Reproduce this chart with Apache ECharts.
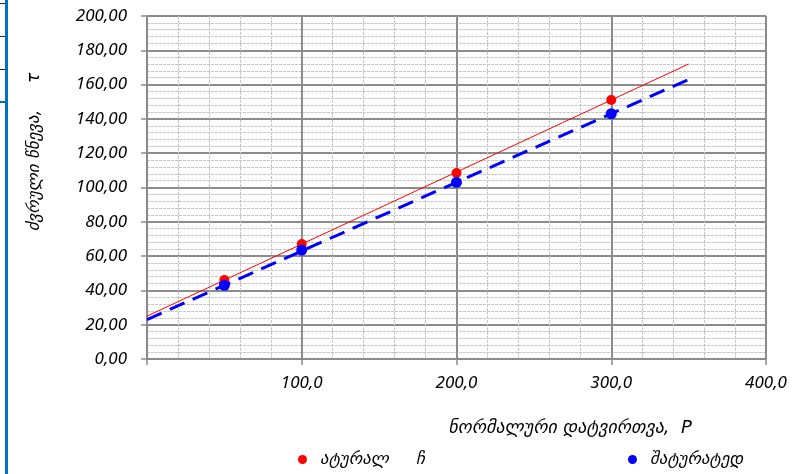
<!DOCTYPE html>
<html>
<head>
<meta charset="utf-8">
<script src="https://cdn.jsdelivr.net/npm/echarts@6/dist/echarts.min.js"></script>
<style>
html,body{margin:0;padding:0;background:#fff;}
#chart{width:804px;height:474px;}
</style>
</head>
<body>
<div id="chart"></div>
<script>
// Data
const loads = [50, 100, 200, 300];
const naturalVals = [46, 67, 108.5, 151];
const saturatedVals = [43, 63.5, 103, 143];
const trendLoads = [0, 350];
const naturalTrend = [25, 172];
const saturatedTrend = [23, 163];

const yTitle = 'ძვრული წნევა,     τ';
const xTitle = 'ნორმალური დატვირთვა,  P';
const naturalName = 'ატურალ     ჩ';
const saturatedName = 'შატურატედ';

const pairs = (xs, ys) => xs.map((x, i) => [x, ys[i]]);
const numFont = '"Noto Sans", "DejaVu Sans", sans-serif';
const geoFont = '"DejaVu Sans", "Noto Sans", sans-serif';

const chart = echarts.init(document.getElementById('chart'), null, {renderer: 'canvas'});
chart.setOption({
  animation: false,
  backgroundColor: '#ffffff',
  grid: {left: 147, right: 38, top: 16, bottom: 115, containLabel: false},
  xAxis: {
    type: 'value', min: 0, max: 400, interval: 100,
    axisLine: {show: true, lineStyle: {color: '#8a8a8a', width: 1.5}},
    axisTick: {show: true, inside: false, length: 6, lineStyle: {color: '#8a8a8a', width: 1.5}},
    minorTick: {show: false, splitNumber: 5},
    splitLine: {show: true, lineStyle: {color: '#8c8c8c', width: 2}},
    minorSplitLine: {show: true, lineStyle: {color: '#c4c4c4', width: 1, type: [3, 1]}},
    axisLabel: {
      margin: 16, color: '#000', fontSize: 17, fontStyle: 'italic', fontFamily: numFont,
      formatter: v => v === 0 ? '' : v.toFixed(1).replace('.', ',')
    }
  },
  yAxis: {
    type: 'value', min: 0, max: 200, interval: 20,
    axisLine: {show: true, lineStyle: {color: '#8a8a8a', width: 1.5}},
    axisTick: {show: true, inside: false, length: 6, lineStyle: {color: '#8a8a8a', width: 1.5}},
    minorTick: {show: false, splitNumber: 5},
    splitLine: {show: true, lineStyle: {color: '#8c8c8c', width: 2}},
    minorSplitLine: {show: true, lineStyle: {color: '#c4c4c4', width: 1, type: [3, 1]}},
    axisLabel: {
      margin: 20, color: '#000', fontSize: 17, fontStyle: 'italic', fontFamily: numFont,
      formatter: v => v.toFixed(2).replace('.', ',')
    }
  },
  legend: [
    {
      data: [naturalName], left: 293, top: 446, icon: 'circle', itemWidth: 9, itemHeight: 9, itemGap: 10,
      textStyle: {color: '#000', fontSize: 17, fontStyle: 'italic', fontFamily: geoFont, padding: [0, 0, 0, 8]}
    },
    {
      data: [saturatedName], left: 623, top: 446, icon: 'circle', itemWidth: 9, itemHeight: 9, itemGap: 10,
      textStyle: {color: '#000', fontSize: 17, fontStyle: 'italic', fontFamily: geoFont, padding: [0, 0, 0, 8]}
    }
  ],
  series: [
    {
      name: naturalName + ' trend', type: 'line', data: pairs(trendLoads, naturalTrend),
      showSymbol: false, symbol: 'none', lineStyle: {color: '#ff0000', width: 1}, z: 3, silent: true
    },
    {
      name: saturatedName + ' trend', type: 'line', data: pairs(trendLoads, saturatedTrend),
      showSymbol: false, symbol: 'none', lineStyle: {color: '#0000ff', width: 3, type: [16, 9]}, z: 3, silent: true
    },
    {
      name: naturalName, type: 'scatter', data: pairs(loads, naturalVals),
      symbol: 'circle', symbolSize: 10, itemStyle: {color: '#ff0000', opacity: 1}, z: 5
    },
    {
      name: saturatedName, type: 'scatter', data: pairs(loads, saturatedVals),
      symbol: 'circle', symbolSize: 11, itemStyle: {color: '#0000ff', opacity: 1}, z: 6
    }
  ],
  graphic: [
    {type: 'rect', shape: {x: 5, y: 0, width: 3, height: 474}, style: {fill: '#0070c0'}, silent: true},
    {type: 'rect', shape: {x: 0, y: 3, width: 5, height: 1}, style: {fill: '#222'}, silent: true},
    {type: 'rect', shape: {x: 0, y: 36, width: 5, height: 1}, style: {fill: '#222'}, silent: true},
    {type: 'rect', shape: {x: 0, y: 69, width: 5, height: 1}, style: {fill: '#222'}, silent: true},
    {type: 'rect', shape: {x: 0, y: 101, width: 5, height: 2}, style: {fill: '#0070c0'}, silent: true},
    {
      type: 'text', x: 35, y: 152, rotation: Math.PI / 2,
      style: {text: yTitle, fill: '#000', font: 'italic 17px ' + geoFont, textAlign: 'center', textVerticalAlign: 'middle'}
    },
    {
      type: 'text', x: 570, y: 428,
      style: {text: xTitle, fill: '#000', font: 'italic 18px ' + geoFont, textAlign: 'center', textVerticalAlign: 'middle'}
    }
  ]
});
</script>
</body>
</html>
